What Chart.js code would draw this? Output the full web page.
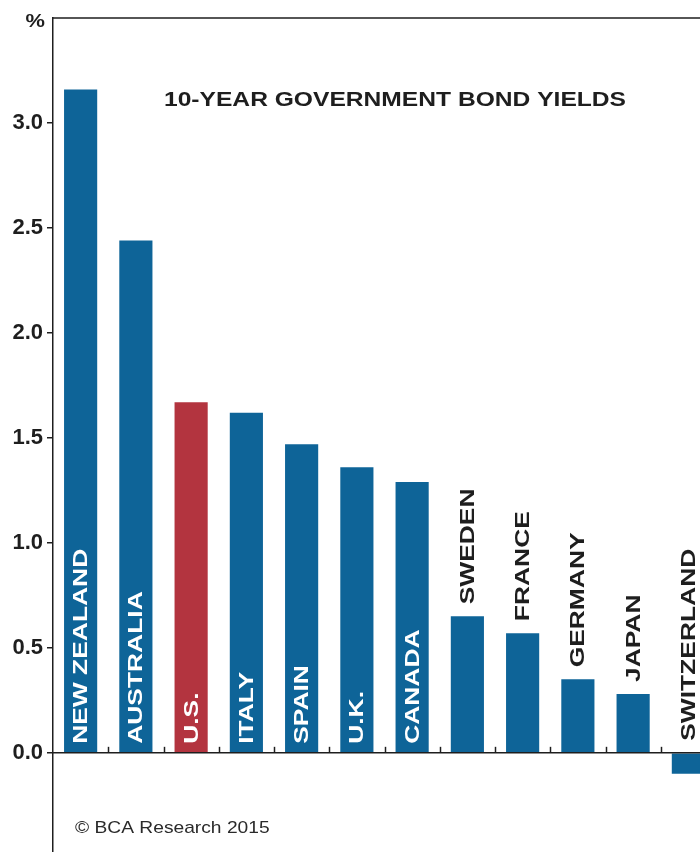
<!DOCTYPE html>
<html>
<head>
<meta charset="utf-8">
<script src="https://cdn.jsdelivr.net/npm/chart.js@4.4.1/dist/chart.umd.min.js"></script>
<style>
  html, body { margin: 0; padding: 0; background: #ffffff; overflow: hidden; width: 700px; height: 852px; }
  #wrap { position: relative; width: 720px; height: 875px; }
</style>
</head>
<body>
<div id="wrap"><canvas id="c" width="720" height="875"></canvas></div>
<script>
const countries = ['NEW ZEALAND', 'AUSTRALIA', 'U.S.', 'ITALY', 'SPAIN', 'U.K.', 'CANADA', 'SWEDEN', 'FRANCE', 'GERMANY', 'JAPAN', 'SWITZERLAND'];
const yields = [3.16, 2.44, 1.67, 1.62, 1.47, 1.36, 1.29, 0.65, 0.57, 0.35, 0.28, -0.10];
const highlighted = ['U.S.'];
const yTickLabels = ['0.0', '0.5', '1.0', '1.5', '2.0', '2.5', '3.0'];
const chartTitle = '10-YEAR GOVERNMENT BOND YIELDS';
const unitLabel = '%';
const sourceNote = '\u00A9 BCA Research 2015';

const BLUE = '#0e6498';
const RED = '#b3343f';
const INK = '#1e1e1e';
const FONT = '"Liberation Sans", Arial, Helvetica, sans-serif';

function stretchedText(ctx, text, x, y, sx) {
  ctx.save();
  ctx.translate(x, y);
  ctx.scale(sx, 1);
  ctx.fillText(text, 0, 0);
  ctx.restore();
}

const decorations = {
  id: 'decorations',
  afterDatasetsDraw(chart) {
    const { ctx, chartArea, scales } = chart;
    const x = scales.x, y = scales.y;
    const y0 = y.getPixelForValue(0);
    ctx.save();
    ctx.strokeStyle = INK;
    ctx.lineWidth = 1.5;
    // top frame line
    ctx.beginPath();
    ctx.moveTo(chartArea.left, chartArea.top);
    ctx.lineTo(chartArea.right + 10, chartArea.top);
    ctx.stroke();
    // zero line
    ctx.beginPath();
    ctx.moveTo(chartArea.left, y0);
    ctx.lineTo(chartArea.right + 10, y0);
    ctx.stroke();
    // category boundary ticks (pointing up)
    for (let i = 0; i < countries.length - 1; i++) {
      const px = Math.round((x.getPixelForValue(i) + x.getPixelForValue(i + 1)) / 2) + 0.5;
      ctx.beginPath();
      ctx.moveTo(px, y0);
      ctx.lineTo(px, y0 - 6);
      ctx.stroke();
    }
    ctx.fillStyle = INK;
    ctx.textBaseline = 'middle';
    // unit label
    ctx.font = 'bold 19px ' + FONT;
    ctx.textAlign = 'right';
    stretchedText(ctx, unitLabel, chartArea.left - 8, chartArea.top + 4, 1.15);
    // title
    ctx.font = 'bold 20px ' + FONT;
    ctx.textAlign = 'center';
    stretchedText(ctx, chartTitle, 395, 100, 1.23);
    // source
    ctx.font = '17px ' + FONT;
    ctx.textAlign = 'left';
    ctx.fillStyle = '#2a2a2a';
    stretchedText(ctx, sourceNote, 75, 828, 1.13);
    // bar labels
    const meta = chart.getDatasetMeta(0);
    ctx.font = 'bold 20px ' + FONT;
    ctx.textAlign = 'left';
    ctx.textBaseline = 'middle';
    meta.data.forEach((bar, i) => {
      const v = yields[i];
      let startY, color;
      if (v >= 1) {
        startY = y0 - 9;
        color = '#ffffff';
      } else {
        startY = Math.min(bar.y, y0) - 12;
        color = INK;
      }
      ctx.save();
      ctx.translate(bar.x + 1, startY);
      ctx.rotate(-Math.PI / 2);
      ctx.scale(1.32, 1);
      ctx.fillStyle = color;
      ctx.fillText(countries[i], 0, 0);
      ctx.restore();
    });
    ctx.restore();
  }
};

new Chart(document.getElementById('c'), {
  type: 'bar',
  data: {
    labels: countries,
    datasets: [{
      data: yields,
      backgroundColor: countries.map(c => highlighted.includes(c) ? RED : BLUE),
      borderWidth: 0,
      barPercentage: 0.6,
      categoryPercentage: 1.0
    }]
  },
  options: {
    responsive: false,
    animation: false,
    devicePixelRatio: 1,
    layout: { padding: { top: 18, right: 4, bottom: 2, left: 0 } },
    plugins: { legend: { display: false }, tooltip: { enabled: false }, title: { display: false } },
    scales: {
      x: { display: false },
      y: {
        min: -0.5,
        max: 3.5,
        afterFit(scale) { scale.width = 53; },
        ticks: {
          stepSize: 0.5,
          color: INK,
          padding: 4,
          font: { family: FONT, size: 22, weight: 'bold' },
          callback(value) {
            const s = Number(value).toFixed(1);
            return yTickLabels.includes(s) ? s : '';
          }
        },
        grid: {
          drawOnChartArea: false,
          drawTicks: true,
          tickLength: 6,
          lineWidth: 1.5,
          color(ctx) {
            const s = ctx.tick ? Number(ctx.tick.value).toFixed(1) : '';
            return yTickLabels.includes(s) ? INK : 'rgba(0,0,0,0)';
          }
        },
        border: { display: true, color: INK, width: 1.5 }
      }
    }
  },
  plugins: [decorations]
});
</script>
</body>
</html>
